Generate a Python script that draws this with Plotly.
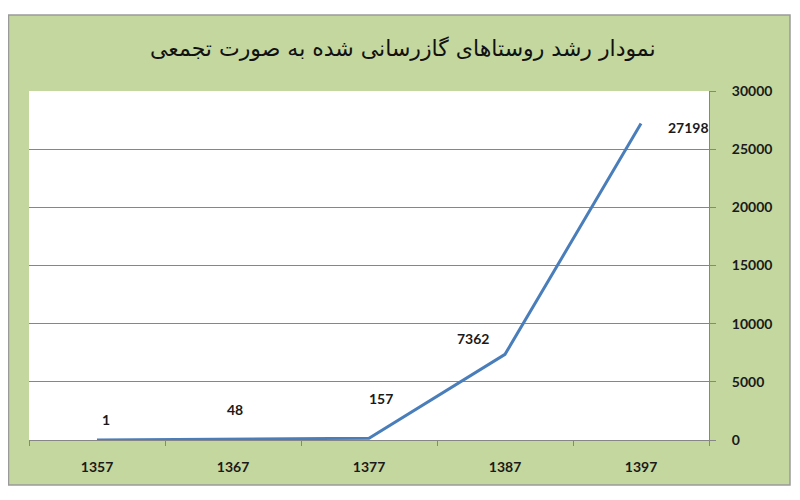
import plotly.graph_objects as go

years = ["1357", "1367", "1377", "1387", "1397"]
villages = [1, 48, 157, 7362, 27198]
label_shift_x = [9, 2, 12, -32, 47]
label_shift_y = [20, 30, 40, 16, -4]

title_text = "نمودار رشد روستاهای گازرسانی شده به صورت تجمعی"

# page body adds an 8px offset, so work in reference pixels minus 8
OFF = 8
W, H = 792, 492
L, T = 29 - OFF, 91 - OFF
R = W - (709 - OFF)
B = H - (440 - OFF)
pw, ph = W - L - R, H - T - B

def px(x):
    return (x - OFF - L) / pw

def py(y):
    return (H - B - (y - OFF)) / ph

fig = go.Figure()
fig.add_trace(go.Scatter(
    x=years, y=villages, mode="lines",
    line=dict(color="#4A7EBB", width=3),
    hoverinfo="skip", showlegend=False,
))

for i, (v, sx, sy) in enumerate(zip(villages, label_shift_x, label_shift_y)):
    fig.add_annotation(
        x=i, y=v, xref="x", yref="y", text=f"<b>{v}</b>", showarrow=False,
        xshift=sx, yshift=sy,
        font=dict(family="Lato, Open Sans, sans-serif", size=14, color="#1a1a1a"),
    )

fig.add_shape(type="rect", xref="paper", yref="paper", layer="below",
              x0=px(8.5), x1=px(790), y0=py(485), y1=py(15),
              fillcolor="#C4D79F", line=dict(color="#9A9A9A", width=1.5))
fig.add_shape(type="rect", xref="paper", yref="paper", layer="below",
              x0=0, x1=1, y0=0, y1=1,
              fillcolor="white", line=dict(width=0))

fig.add_annotation(
    xref="paper", yref="paper", x=px(403), y=py(48), text=title_text,
    showarrow=False, xanchor="center", yanchor="middle",
    font=dict(family="DejaVu Sans, sans-serif", size=22, color="#111111"),
)

fig.update_layout(
    width=W, height=H,
    margin=dict(l=L, r=R, t=T, b=B, autoexpand=False),
    paper_bgcolor="white", plot_bgcolor="white",
    xaxis=dict(
        type="category", showgrid=False, showline=True, linecolor="#868686",
        linewidth=1, ticks="outside", tickson="boundaries", ticklen=5,
        tickcolor="#868686", ticklabelstandoff=14, automargin=False,
        tickfont=dict(family="Lato, Open Sans, sans-serif", size=14, color="#1a1a1a"),
        tickprefix="<b>", ticksuffix="</b>",
        range=[-0.5, 4.5], fixedrange=True,
    ),
    yaxis=dict(
        side="right", range=[0, 30000], dtick=5000, showgrid=True,
        gridcolor="#868686", gridwidth=1, showline=True, linecolor="#868686",
        ticks="outside", ticklen=6, tickcolor="#868686", ticklabelstandoff=13,
        zeroline=False, automargin=False, exponentformat="none",
        separatethousands=False, tickformat="d",
        tickfont=dict(family="Lato, Open Sans, sans-serif", size=14, color="#1a1a1a"),
        tickprefix="<b>", ticksuffix="</b>",
    ),
)

fig.write_html("out.html")
